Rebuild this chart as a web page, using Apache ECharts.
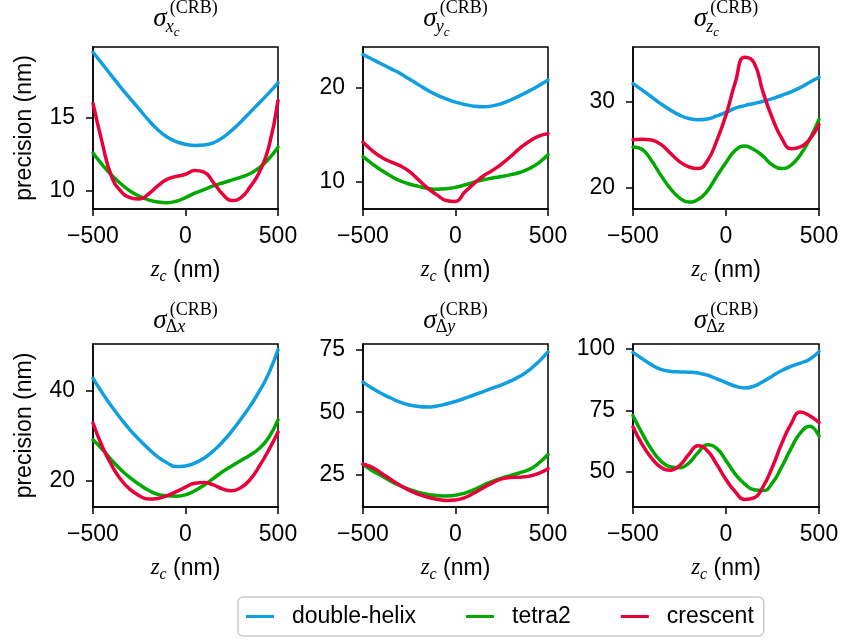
<!DOCTYPE html>
<html><head><meta charset="utf-8">
<script src="https://cdn.jsdelivr.net/npm/echarts@6/dist/echarts.min.js"></script>
<style>html,body{margin:0;padding:0;background:#fff}#c{width:841px;height:640px}</style>
</head><body><div id="c"></div>
<script>
// ---- data ----
const zc = [-500,-450,-400,-350,-300,-250,-200,-150,-100,-50,0,50,100,150,200,250,300,350,400,450,500];
const seriesNames = ['double-helix','tetra2','crescent'];

const dhXc = [19.5,18.7,17.9,17.1,16.35,15.6,14.85,14.2,13.7,13.38,13.2,13.12,13.15,13.3,13.65,14.15,14.75,15.4,16.05,16.7,17.4];
const t2Xc = [12.6,11.8,11.1,10.5,10.0,9.65,9.4,9.25,9.2,9.3,9.55,9.85,10.1,10.35,10.55,10.75,10.95,11.2,11.6,12.2,13.0];
const crXc = [16.0,13.3,11.0,10.0,9.55,9.45,9.8,10.35,10.8,11.0,11.15,11.4,11.3,10.6,9.8,9.35,9.55,10.3,11.3,13.0,16.2];

const dhYc = [23.5,23.0,22.5,22.0,21.5,20.9,20.3,19.7,19.2,18.8,18.45,18.2,18.02,17.95,18.05,18.3,18.7,19.15,19.65,20.2,20.8];
const t2Yc = [12.65,11.9,11.2,10.6,10.1,9.75,9.5,9.3,9.2,9.25,9.4,9.65,9.95,10.2,10.4,10.55,10.75,11.0,11.4,12.0,12.85];
const crYc = [14.2,13.3,12.6,12.1,11.7,11.1,10.2,9.3,8.6,8.0,7.9,8.9,9.8,10.6,11.2,11.9,12.7,13.6,14.3,14.85,15.1];

const dhZc = [32.05,31.3,30.5,29.7,29.0,28.4,28.0,27.85,27.95,28.3,28.7,29.2,29.5,29.75,30.0,30.3,30.7,31.1,31.6,32.2,32.8];
const t2Zc = [24.7,24.4,23.1,21.4,19.9,18.8,18.3,18.6,19.6,21.3,22.9,24.3,24.8,24.4,23.6,22.6,22.2,22.6,23.8,25.6,27.9];
const crZc = [25.55,25.6,25.5,25.0,24.0,23.0,22.4,22.2,23.1,25.4,28.4,32.2,35.1,34.5,31.0,28.0,25.7,24.5,24.7,25.6,27.3];

const dhDx = [42.7,39.5,36.5,33.8,31.3,29.1,27.1,25.3,24.0,23.15,23.3,23.9,25.0,26.6,28.6,31.0,33.7,36.6,39.9,43.8,49.0];
const t2Dx = [29.1,27.0,24.6,22.5,20.7,19.2,17.9,17.0,16.7,16.6,16.9,17.8,19.0,20.5,22.0,23.3,24.5,25.7,27.2,29.6,33.5];
const crDx = [32.8,27.6,23.5,20.3,18.1,16.7,15.95,16.1,16.7,17.6,18.6,19.45,19.6,19.1,18.2,17.8,18.5,20.3,23.3,26.8,30.8];

const dhDy = [62.1,59.6,57.5,55.7,54.0,52.9,52.3,52.1,52.5,53.3,54.3,55.6,56.9,58.3,59.7,61.0,62.6,64.5,67.0,70.3,74.2];
const t2Dy = [29.0,26.5,24.5,22.3,20.5,19.0,17.8,16.9,16.5,16.3,16.6,17.5,18.9,20.6,22.2,23.5,24.6,25.7,27.0,29.5,33.0];
const crDy = [29.2,27.8,25.5,23.0,20.6,18.6,17.0,15.8,15.0,14.55,14.7,15.7,17.5,19.6,21.6,23.2,23.8,23.9,24.3,25.4,27.3];

const dhDz = [98.6,96.0,93.5,91.7,90.9,90.6,90.5,90.2,89.3,87.8,86.3,84.8,84.1,84.8,86.7,89.0,91.2,92.9,94.2,95.8,98.9];
const t2Dz = [72.8,65.5,59.0,54.3,52.0,51.6,53.5,57.8,61.0,59.5,54.5,49.0,45.0,42.6,42.3,45.5,52.0,59.5,65.8,68.5,64.5];
const crDz = [68.3,61.0,55.5,51.8,50.6,52.5,57.0,60.6,58.5,53.0,46.8,41.8,38.7,39.3,44.0,52.0,61.5,69.5,74.3,72.8,70.0];

const xTickValues = [-500, 0, 500];
const yTickValues = [[10,15],[10,20],[20,30],[20,40],[25,50,75],[50,75,100]];
const yRanges = [[8.77,19.86],[7.1,24.3],[17.5,36.3],[14.2,50.3],[11.9,77.4],[35.6,102]];
const panelData = [[dhXc,t2Xc,crXc],[dhYc,t2Yc,crYc],[dhZc,t2Zc,crZc],[dhDx,t2Dx,crDx],[dhDy,t2Dy,crDy],[dhDz,t2Dz,crDz]];
const subLetters = ['x','y','z','x','y','z'];

// ---- layout / style ----
const colors = ['#0f9ee0','#00a800','#e8003a'];
const SANS = '"Liberation Sans", Arial, sans-serif';
const SERIF = '"Liberation Serif", "Times New Roman", serif';
const colLeft = [93, 363, 633], colW = [185, 185, 186];
const rowTop = [47, 344], rowH = [162, 163];

const grids = [], xAxes = [], yAxes = [], series = [], graphics = [];
const mctx = document.createElement('canvas').getContext('2d');
function tw(t, size, style, fam){ mctx.font = (style||'normal') + ' ' + size + 'px ' + fam; return mctx.measureText(t).width; }
function tx(x, base, t, size, style, fam, extra){
  return Object.assign({type:'text', x:x, y: base - 0.34*size, silent:true,
    style:{text:t, fontSize:size, fontStyle:style||'normal', fontFamily:fam, fill:'#000', align:'left', verticalAlign:'middle'}}, extra||{});
}

for (let p = 0; p < 6; p++) {
  const r = Math.floor(p/3), c = p % 3;
  grids.push({left: colLeft[c], top: rowTop[r], width: colW[c], height: rowH[r], show:true, borderColor:'#000', borderWidth:1.5, backgroundColor:'transparent', outerBoundsMode:'none', containLabel:false});
  xAxes.push({type:'value', gridIndex:p, min:-500, max:500, interval:500,
    axisLine:{show:true, onZero:false, lineStyle:{color:'#000', width:1.5}},
    axisTick:{show:true, inside:false, length:7, lineStyle:{color:'#000', width:1.5}},
    splitLine:{show:false},
    axisLabel:{show:true, margin:16, fontSize:23, fontFamily:SANS, color:'#000', showMinLabel:true, showMaxLabel:true,
      formatter: v => String(v).replace('-', '\u2212')}});
  yAxes.push({type:'value', gridIndex:p, min:yRanges[p][0], max:yRanges[p][1],
    axisLine:{show:true, onZero:false, lineStyle:{color:'#000', width:1.5}},
    axisTick:{show:true, inside:false, length:7, lineStyle:{color:'#000', width:1.5}, customValues: yTickValues[p]},
    splitLine:{show:false},
    axisLabel:{show:true, margin:18, fontSize:23, fontFamily:SANS, color:'#000', customValues: yTickValues[p]}});
  for (let s = 0; s < 3; s++) {
    series.push({type:'line', name: seriesNames[s], xAxisIndex:p, yAxisIndex:p,
      data: zc.map((z,i) => [z, panelData[p][s][i]]),
      showSymbol:false, symbol:'none', smooth:0.5, clip:true,
      lineStyle:{color:colors[s], width:3.5, cap:'round', join:'round'}, itemStyle:{color:colors[s]}, z: 2+s});
  }
  // title
  const cx = colLeft[c] + colW[c]/2;
  const base = r === 0 ? 28 : 330;
  const sS = 27, sSub = 18, sSubsub = 13;
  const wSig = tw('\u03c3', sS, 'italic', SERIF);
  const wSup = tw('(CRB)', sSub, 'normal', SERIF);
  let subEls = [], wSubTot;
  if (r === 0) {
    const w1 = tw(subLetters[p], sSub, 'italic', SERIF);
    const w2 = tw('c', sSubsub, 'italic', SERIF);
    wSubTot = w1 + w2;
    subEls = [[subLetters[p], sSub, 'italic', 0, 5], ['c', sSubsub, 'italic', w1, 9]];
  } else {
    const w1 = tw('\u0394', sSub, 'normal', SERIF);
    const w2 = tw(subLetters[p], sSub, 'italic', SERIF);
    wSubTot = w1 + w2;
    subEls = [['\u0394', sSub, 'normal', 0, 3], [subLetters[p], sSub, 'italic', w1, 3]];
  }
  const total = Math.max(wSig + 3 + wSup, wSig - 1 + wSubTot);
  const x0 = cx - total/2;
  graphics.push(tx(x0, base, '\u03c3', sS, 'italic', SERIF));
  graphics.push(tx(x0 + wSig + 3, base - 14, '(CRB)', sSub, 'normal', SERIF));
  subEls.forEach(e => graphics.push(tx(x0 + wSig - 1 + e[3], base + e[4], e[0], e[1], e[2], SERIF)));
  // x-axis label
  const lb = r === 0 ? 278 : 576;
  const wz = tw('z', 23, 'italic', SERIF), wc = tw('c', 16, 'italic', SERIF), wn = tw(' (nm)', 23, 'normal', SANS);
  const lx0 = cx - (wz + wc + wn)/2;
  graphics.push(tx(lx0, lb, 'z', 23, 'italic', SERIF));
  graphics.push(tx(lx0 + wz, lb + 4, 'c', 16, 'italic', SERIF));
  graphics.push(tx(lx0 + wz + wc, lb, ' (nm)', 23, 'normal', SANS));
  // y-axis label (left column)
  if (c === 0) {
    graphics.push({type:'text', x:25, y: rowTop[r] + rowH[r]/2, rotation: Math.PI/2, silent:true,
      style:{text:'precision (nm)', fontSize:23, fontFamily:SANS, fill:'#000', align:'center', verticalAlign:'middle'}});
  }
}

const chart = echarts.init(document.getElementById('c'), null, {renderer:'canvas'});
chart.setOption({
  animation:false,
  backgroundColor:'#fff',
  grid: grids, xAxis: xAxes, yAxis: yAxes, series: series,
  legend: {data: seriesNames, left:238, top:597, orient:'horizontal', icon:'rect', itemWidth:28, itemHeight:3, itemGap:50,
    padding:[8,10,8,8], borderColor:'#cccccc', borderWidth:1.5, borderRadius:5, selectedMode:false,
    textStyle:{fontSize:23, fontFamily:SANS, color:'#000', padding:[0,0,0,13]}},
  graphic: graphics
});
</script></body></html>
